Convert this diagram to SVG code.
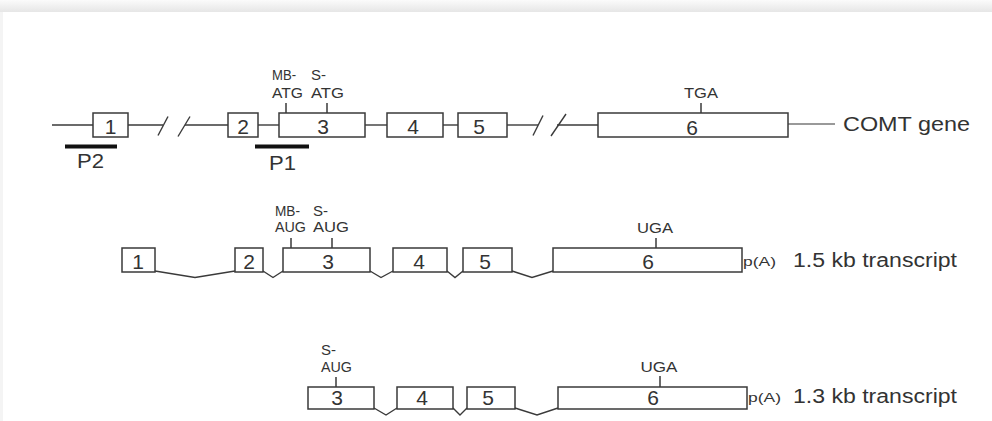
<svg xmlns="http://www.w3.org/2000/svg" width="992" height="421" viewBox="0 0 992 421">
  <defs>
    <linearGradient id="topShade" x1="0" y1="0" x2="0" y2="1">
      <stop offset="0" stop-color="#fbfbfb"/>
      <stop offset="1" stop-color="#e6e6e6"/>
    </linearGradient>
    <linearGradient id="leftShade" x1="0" y1="0" x2="1" y2="0">
      <stop offset="0" stop-color="#f4f4f4"/>
      <stop offset="1" stop-color="#e8e8e8"/>
    </linearGradient>
    <style>
      .ex { fill: #ffffff; stroke: #3a3a3a; stroke-width: 1.5; }
      .ln { fill: none; stroke: #3a3a3a; stroke-width: 1.4; }
      .tk { fill: none; stroke: #3a3a3a; stroke-width: 1.5; }
      .bar { fill: none; stroke: #111111; stroke-width: 4; }
      .dg { font-family: "Liberation Sans", Arial, sans-serif; font-size: 21px; fill: #333333; text-anchor: middle; }
      .sm { font-family: "Liberation Sans", Arial, sans-serif; font-size: 15px; fill: #333333; }
      .lb { font-family: "Liberation Sans", Arial, sans-serif; font-size: 20px; fill: #333333; }
      .pa { font-family: "Liberation Sans", Arial, sans-serif; font-size: 12px; fill: #333333; }
    </style>
  </defs>

  <!-- background -->
  <rect x="0" y="0" width="992" height="421" fill="url(#leftShade)"/>
  <rect x="0" y="0" width="992" height="12" fill="url(#topShade)"/>
  <rect x="3" y="12" width="989" height="409" fill="#ffffff"/>

  <!-- connectors -->
  <g id="connectors">
    <!-- gene row -->
    <line class="ln" x1="52" y1="125" x2="93" y2="125"/>
    <line class="ln" x1="128" y1="125" x2="163" y2="125"/>
    <line class="ln" x1="158" y1="135.5" x2="168" y2="116.5"/>
    <line class="ln" x1="178" y1="136.5" x2="190" y2="116.5"/>
    <line class="ln" x1="185" y1="125" x2="228" y2="125"/>
    <line class="ln" x1="258" y1="125" x2="279" y2="125"/>
    <line class="ln" x1="365" y1="125" x2="387" y2="125"/>
    <line class="ln" x1="443" y1="125" x2="458" y2="125"/>
    <line class="ln" x1="507" y1="125" x2="538" y2="125"/>
    <line class="ln" x1="533" y1="135.5" x2="543" y2="115.5"/>
    <line class="ln" x1="551" y1="136" x2="566" y2="114"/>
    <line class="ln" x1="557" y1="125" x2="598" y2="125"/>
    <line x1="788" y1="124" x2="835" y2="124" stroke="#777777" stroke-width="1.6"/>

    <!-- 1.5 kb transcript introns -->
    <polyline class="ln" points="155,271 195,277.5 235,271"/>
    <polyline class="ln" points="263,271 273,277.5 283,271"/>
    <polyline class="ln" points="370,271 381,277.5 393,271"/>
    <polyline class="ln" points="447,271 455,277.5 463,271"/>
    <polyline class="ln" points="512,271 532,277.5 553,271"/>

    <!-- 1.3 kb transcript introns -->
    <polyline class="ln" points="374,408 386,415 397,408"/>
    <polyline class="ln" points="453,408 460,415 467,408"/>
    <polyline class="ln" points="515,408 537,415 558,408"/>
  </g>

  <!-- COMT gene -->
  <g id="gene-exon1"><rect class="ex" x="93" y="113" width="35" height="24"/><text class="dg" x="110.5" y="133.5">1</text></g>
  <g id="gene-exon2"><rect class="ex" x="228" y="113" width="30" height="24"/><text class="dg" x="243" y="133.5">2</text></g>
  <g id="gene-exon3">
    <rect class="ex" x="279" y="113" width="86" height="24"/><text class="dg" x="323" y="133.5">3</text>
    <line class="tk" x1="286" y1="103" x2="286" y2="113"/>
    <line class="tk" x1="327" y1="103" x2="327" y2="113"/>
    <text class="sm" x="272" y="80" textLength="24" lengthAdjust="spacingAndGlyphs">MB-</text>
    <text class="sm" x="272" y="98" textLength="31" lengthAdjust="spacingAndGlyphs">ATG</text>
    <text class="sm" x="311" y="80">S-</text>
    <text class="sm" x="311" y="98" textLength="33" lengthAdjust="spacingAndGlyphs">ATG</text>
  </g>
  <g id="gene-exon4"><rect class="ex" x="387" y="113" width="56" height="24"/><text class="dg" x="413" y="133.5">4</text></g>
  <g id="gene-exon5"><rect class="ex" x="458" y="113" width="49" height="24"/><text class="dg" x="479" y="133.5">5</text></g>
  <g id="gene-exon6">
    <rect class="ex" x="598" y="113" width="190" height="24"/><text class="dg" x="692" y="134.5">6</text>
    <line class="tk" x1="701" y1="103" x2="701" y2="113"/>
    <text class="sm" x="701" y="98" text-anchor="middle" textLength="34" lengthAdjust="spacingAndGlyphs">TGA</text>
  </g>
  <g id="probe-P2"><line class="bar" x1="65" y1="146.5" x2="117" y2="146.5"/><text class="lb" x="77" y="168" textLength="27" lengthAdjust="spacingAndGlyphs">P2</text></g>
  <g id="probe-P1"><line class="bar" x1="255" y1="146.5" x2="309" y2="146.5"/><text class="lb" x="269" y="170" textLength="27" lengthAdjust="spacingAndGlyphs">P1</text></g>
  <g id="label-gene"><text class="lb" x="843" y="131" textLength="127" lengthAdjust="spacingAndGlyphs">COMT gene</text></g>

  <!-- 1.5 kb transcript -->
  <g id="t15-exon1"><rect class="ex" x="122" y="248" width="33" height="24"/><text class="dg" x="138" y="268.5">1</text></g>
  <g id="t15-exon2"><rect class="ex" x="235" y="248" width="28" height="24"/><text class="dg" x="249" y="268.5">2</text></g>
  <g id="t15-exon3">
    <rect class="ex" x="283" y="248" width="87" height="24"/><text class="dg" x="328" y="268.5">3</text>
    <line class="tk" x1="291" y1="238" x2="291" y2="248"/>
    <line class="tk" x1="332" y1="238" x2="332" y2="248"/>
    <text class="sm" x="275" y="216" textLength="25" lengthAdjust="spacingAndGlyphs">MB-</text>
    <text class="sm" x="275" y="232" textLength="31" lengthAdjust="spacingAndGlyphs">AUG</text>
    <text class="sm" x="313" y="216">S-</text>
    <text class="sm" x="313" y="232" textLength="36" lengthAdjust="spacingAndGlyphs">AUG</text>
  </g>
  <g id="t15-exon4"><rect class="ex" x="393" y="248" width="54" height="24"/><text class="dg" x="419" y="268.5">4</text></g>
  <g id="t15-exon5"><rect class="ex" x="463" y="248" width="49" height="24"/><text class="dg" x="485" y="268.5">5</text></g>
  <g id="t15-exon6">
    <rect class="ex" x="553" y="248" width="189" height="24"/><text class="dg" x="648" y="269">6</text>
    <line class="tk" x1="656" y1="238" x2="656" y2="248"/>
    <text class="sm" x="655" y="233" text-anchor="middle" textLength="36" lengthAdjust="spacingAndGlyphs">UGA</text>
    <text class="pa" x="743" y="266" textLength="33" lengthAdjust="spacingAndGlyphs">p(A)</text>
  </g>
  <g id="label-t15"><text class="lb" x="793" y="267" textLength="164" lengthAdjust="spacingAndGlyphs">1.5 kb transcript</text></g>

  <!-- 1.3 kb transcript -->
  <g id="t13-exon3">
    <rect class="ex" x="308" y="387" width="66" height="22"/><text class="dg" x="337" y="405">3</text>
    <line class="tk" x1="336" y1="377" x2="336" y2="387"/>
    <text class="sm" x="321" y="355">S-</text>
    <text class="sm" x="321" y="372" textLength="31" lengthAdjust="spacingAndGlyphs">AUG</text>
  </g>
  <g id="t13-exon4"><rect class="ex" x="397" y="387" width="56" height="22"/><text class="dg" x="422" y="405">4</text></g>
  <g id="t13-exon5"><rect class="ex" x="467" y="387" width="48" height="22"/><text class="dg" x="488" y="405">5</text></g>
  <g id="t13-exon6">
    <rect class="ex" x="558" y="387" width="189" height="22"/><text class="dg" x="653" y="405">6</text>
    <line class="tk" x1="660" y1="376" x2="660" y2="387"/>
    <text class="sm" x="659" y="372" text-anchor="middle" textLength="37" lengthAdjust="spacingAndGlyphs">UGA</text>
    <text class="pa" x="748" y="402" textLength="33" lengthAdjust="spacingAndGlyphs">p(A)</text>
  </g>
  <g id="label-t13"><text class="lb" x="793" y="403" textLength="164" lengthAdjust="spacingAndGlyphs">1.3 kb transcript</text></g>
</svg>
